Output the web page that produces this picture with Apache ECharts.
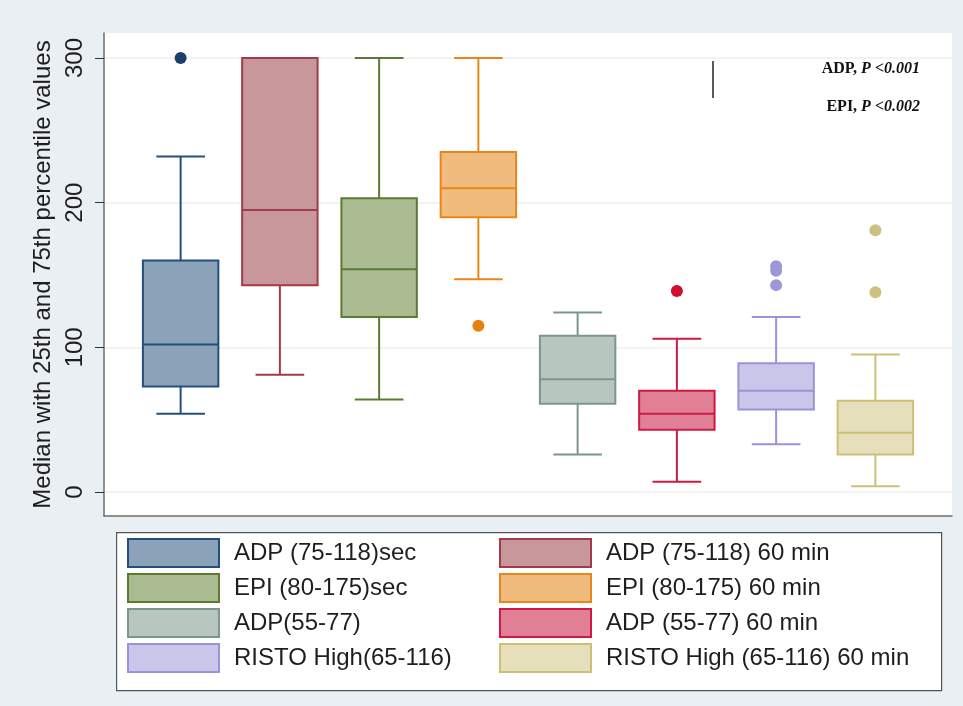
<!DOCTYPE html>
<html>
<head>
<meta charset="utf-8">
<script src="https://cdn.jsdelivr.net/npm/echarts@6/dist/echarts.min.js"></script>
<style>
  html, body { margin: 0; padding: 0; background: #e9eff2; }
  #chart { width: 963px; height: 706px; }
</style>
</head>
<body>
<div id="chart"></div>
<script>
  // groups, left to right
  const groupNames = [
    'ADP (75-118)sec', 'ADP (75-118) 60 min',
    'EPI (80-175)sec', 'EPI (80-175) 60 min',
    'ADP(55-77)', 'ADP (55-77) 60 min',
    'RISTO High(65-116)', 'RISTO High (65-116) 60 min'
  ];
  // [min, Q1, median, Q3, max] per group
  const boxStats = [
    [54, 73, 102, 160, 232],
    [81, 143, 195, 300, 300],
    [64, 121, 154, 203, 300],
    [147, 190, 210, 235, 300],
    [26, 61, 78, 108, 124],
    [7, 43, 54, 70, 106],
    [33, 57, 70, 89, 121],
    [4, 26, 41, 63, 95]
  ];
  // outliers per group
  const outliers = [
    [300],
    [],
    [],
    [115],
    [],
    [139],
    [156, 153, 143],
    [181, 138]
  ];
  const yTicks = [0, 100, 200, 300];

  const fills = ['#8ca2b9', '#c8979b', '#aabb91', '#f0bc7d', '#b7c7c0', '#e07f96', '#c9c6ea', '#e6dfbb'];
  const borders = ['#234f7e', '#a43a49', '#5b7b33', '#e8861c', '#7b968d', '#cf1843', '#9a92da', '#cdbf74'];
  const dots = ['#1b3f6b', '#a43a49', '#5b7b33', '#e8800f', '#7b968d', '#cf0f30', '#9b97d9', '#cec07f'];

  const yMin = -16.6, yMax = 317.3;
  const font = 'Liberation Sans';

  const chart = echarts.init(document.getElementById('chart'));

  function makeRender(fill, stroke) {
    return function (params, api) {
      const x = api.value(0);
      const lo = api.coord([x, api.value(1)]);
      const q1 = api.coord([x, api.value(2)]);
      const md = api.coord([x, api.value(3)]);
      const q3 = api.coord([x, api.value(4)]);
      const hi = api.coord([x, api.value(5)]);
      const band = api.size([1, 0])[0];
      const bw = band * 0.76, cw = band * 0.49;
      const cx = lo[0];
      const ls = { stroke: stroke, lineWidth: 2 };
      return {
        type: 'group',
        children: [
          { type: 'line', shape: { x1: cx, y1: lo[1], x2: cx, y2: q1[1] }, style: ls },
          { type: 'line', shape: { x1: cx, y1: q3[1], x2: cx, y2: hi[1] }, style: ls },
          { type: 'line', shape: { x1: cx - cw / 2, y1: lo[1], x2: cx + cw / 2, y2: lo[1] }, style: ls },
          { type: 'line', shape: { x1: cx - cw / 2, y1: hi[1], x2: cx + cw / 2, y2: hi[1] }, style: ls },
          { type: 'rect', shape: { x: cx - bw / 2, y: q3[1], width: bw, height: q1[1] - q3[1] },
            style: { fill: fill, stroke: stroke, lineWidth: 2 } },
          { type: 'line', shape: { x1: cx - bw / 2, y1: md[1], x2: cx + bw / 2, y2: md[1] }, style: ls }
        ]
      };
    };
  }

  const series = [];
  groupNames.forEach((name, i) => {
    series.push({
      name: name,
      type: 'custom',
      xAxisIndex: 1,
      yAxisIndex: 1,
      itemStyle: { color: fills[i], borderColor: borders[i] },
      renderItem: makeRender(fills[i], borders[i]),
      encode: { x: 0, y: [1, 2, 3, 4, 5] },
      data: [[i].concat(boxStats[i])],
      silent: true
    });
  });
  groupNames.forEach((name, i) => {
    if (!outliers[i].length) return;
    series.push({
      name: name + ' outliers',
      type: 'scatter',
      xAxisIndex: 1,
      yAxisIndex: 1,
      symbolSize: 12,
      itemStyle: { color: dots[i], opacity: 1 },
      data: outliers[i].map(v => [i, v]),
      silent: true
    });
  });

  function legendItems(idx) {
    return idx.map(i => ({
      name: groupNames[i],
      icon: 'rect',
      itemStyle: { color: fills[i], borderColor: borders[i], borderWidth: 2 }
    }));
  }
  const legendCommon = {
    orient: 'vertical',
    top: 538,
    padding: 0,
    itemWidth: 91,
    itemHeight: 28,
    itemGap: 5,
    selectedMode: false,
    textStyle: { fontFamily: font, fontSize: 24, color: '#1e1e1e', padding: [0, 0, 0, 10] }
  };

  chart.setOption({
    backgroundColor: '#e9eff2',
    animation: false,
    grid: [
      { left: 104, right: 11, top: 33, bottom: 190, show: true, backgroundColor: '#ffffff', borderWidth: 0 },
      { left: 131, width: 794, top: 33, bottom: 190 }
    ],
    xAxis: [
      {
        gridIndex: 0, type: 'value', min: 0, max: 1,
        axisLine: { show: true, onZero: false, lineStyle: { color: '#6e6e6e', width: 1.5 } },
        axisTick: { show: false }, axisLabel: { show: false }, splitLine: { show: false }
      },
      {
        gridIndex: 1, type: 'category', data: groupNames, show: false
      }
    ],
    yAxis: [
      {
        gridIndex: 0, type: 'value', min: yMin, max: yMax,
        name: 'Median with 25th and 75th percentile values',
        nameLocation: 'middle',
        nameGap: 34,
        nameTextStyle: { fontFamily: font, fontSize: 24, color: '#1e1e1e' },
        axisLine: { show: true, onZero: false, lineStyle: { color: '#6e6e6e', width: 1.5 } },
        axisTick: { show: true, length: 9, customValues: yTicks, lineStyle: { color: '#333' } },
        axisLabel: {
          customValues: yTicks, rotate: 90, margin: 17,
          fontFamily: font, fontSize: 24, color: '#1e1e1e'
        },
        splitLine: { show: true, lineStyle: { color: '#eceff1', width: 1.5 } }
      },
      {
        gridIndex: 1, type: 'value', min: yMin, max: yMax, show: false, splitLine: { show: false }
      }
    ],
    legend: [
      Object.assign({ left: 127, data: legendItems([0, 2, 4, 6]) }, legendCommon),
      Object.assign({ left: 499, data: legendItems([1, 3, 5, 7]) }, legendCommon)
    ],
    graphic: [
      {
        type: 'rect', left: 116, top: 532, z: -1,
        shape: { width: 825, height: 158 },
        style: { fill: '#ffffff', stroke: '#555555', lineWidth: 1.2 }
      },
      {
        type: 'line', z: 10,
        shape: { x1: 713, y1: 61, x2: 713, y2: 98 },
        style: { stroke: '#5a5a5a', lineWidth: 2 }
      },
      {
        type: 'text', right: 963 - 920, top: 61, z: 10,
        style: {
          text: '{a|ADP, }{b|P <0.001}',
          rich: {
            a: { fontFamily: 'Liberation Serif', fontWeight: 'bold', fontSize: 16, fill: '#111' },
            b: { fontFamily: 'Liberation Serif', fontWeight: 'bold', fontStyle: 'italic', fontSize: 16, fill: '#111' }
          }
        }
      },
      {
        type: 'text', right: 963 - 920, top: 99, z: 10,
        style: {
          text: '{a|EPI, }{b|P <0.002}',
          rich: {
            a: { fontFamily: 'Liberation Serif', fontWeight: 'bold', fontSize: 16, fill: '#111' },
            b: { fontFamily: 'Liberation Serif', fontWeight: 'bold', fontStyle: 'italic', fontSize: 16, fill: '#111' }
          }
        }
      }
    ],
    series: series
  });
</script>
</body>
</html>
